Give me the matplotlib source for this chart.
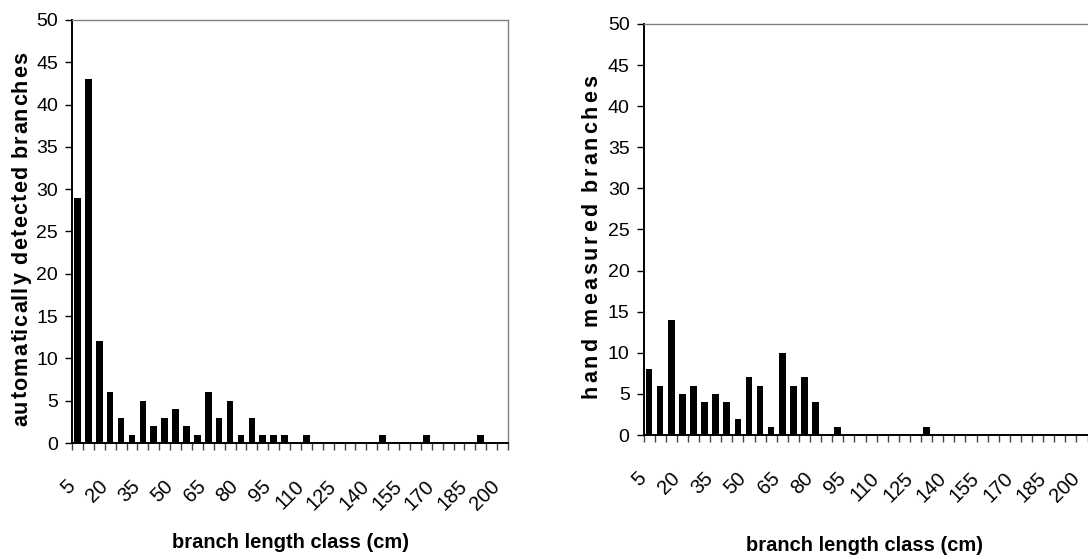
import numpy as np
import matplotlib
matplotlib.use("Agg")
import matplotlib.pyplot as plt
from matplotlib.font_manager import FontProperties, findfont, get_font

# branch length classes (cm), one bar per class
length_classes = list(range(5, 201, 5))
label_every = 3

auto_counts = [29, 43, 12, 6, 3, 1, 5, 2, 3, 4,
               2, 1, 6, 3, 5, 1, 3, 1, 1, 1,
               0, 1, 0, 0, 0, 0, 0, 0, 1, 0,
               0, 0, 1, 0, 0, 0, 0, 1, 0, 0]
hand_counts = [8, 6, 14, 5, 6, 4, 5, 4, 2, 7,
               6, 1, 10, 6, 7, 4, 0, 1, 0, 0,
               0, 0, 0, 0, 0, 1, 0, 0, 0, 0,
               0, 0, 0, 0, 0, 0, 0, 0, 0, 0]

auto_ylabel = "automatically detected branches"
hand_ylabel = "hand measured branches"
xlabel = "branch length class (cm)"

W, H = 1088, 559
FONT = ["Liberation Sans", "DejaVu Sans"]
plt.rcParams["font.family"] = FONT


def px_box(x0, y_top, x1, y_bot):
    # image pixel box -> figure fraction rect
    return [x0 / W, 1 - y_bot / H, (x1 - x0) / W, (y_bot - y_top) / H]


def spaced_vlabel(fig, text, x_base, y_bottom, y_top, prop):
    # vertical text with letter spacing, drawn char by char
    font = get_font(findfont(prop))
    font.set_size(prop.get_size_in_points(), fig.dpi)
    adv = [font.load_char(ord(c)).linearHoriAdvance / 65536 for c in text]
    extra = ((y_bottom - y_top) - sum(adv)) / (len(text) - 1)
    pos = y_bottom
    for c, a in zip(text, adv):
        fig.text(x_base / W, 1 - pos / H, c, rotation=90, rotation_mode="anchor",
                 ha="left", va="baseline", fontproperties=prop)
        pos -= a + extra


def draw_panel(ax, counts):
    idx = np.arange(len(length_classes))
    ax.bar(idx, counts, width=0.6, color="black", linewidth=0)
    ax.set_xlim(-0.5, len(length_classes) - 0.5)
    ax.set_ylim(0, 50)
    ax.set_yticks(np.arange(0, 51, 5))
    # tick marks between the classes, rotated labels on every third class
    ax.xaxis.remove_overlapping_locs = False
    ax.set_xticks(np.arange(len(length_classes) + 1) - 0.5)
    ax.set_xticklabels([])
    ax.set_xticks(idx[::label_every] - 0.5, minor=True)
    ax.set_xticklabels([str(v) for v in length_classes[::label_every]], minor=True)
    ax.tick_params(axis="y", direction="out", length=5, width=1, pad=5, labelsize=14)
    ax.tick_params(axis="x", which="major", direction="out", length=5, width=1, color="#444444")
    ax.tick_params(axis="x", which="minor", length=0, pad=29, labelsize=14.5)
    for lab in ax.get_xticklabels(minor=True):
        lab.set_rotation(45)
        lab.set_ha("right")
        lab.set_va("center")
        lab.set_rotation_mode("anchor")
    ax.spines["left"].set_linewidth(1.4)
    ax.spines["bottom"].set_linewidth(1.4)
    for s in ("top", "right"):
        ax.spines[s].set_color("#808080")
        ax.spines[s].set_linewidth(1.0)


fig = plt.figure(figsize=(W / 100, H / 100), dpi=100)

ax1 = fig.add_axes(px_box(72, 20, 508, 443))
draw_panel(ax1, auto_counts)

ax2 = fig.add_axes(px_box(643.5, 24, 1087.5, 435))
draw_panel(ax2, hand_counts)
ax2.spines["right"].set_visible(False)

bold = FontProperties(family=FONT, weight="bold", size=14.5)
fig.text(290 / W, 1 - 548 / H, xlabel, ha="center", va="baseline", fontproperties=bold)
fig.text(865 / W, 1 - 551 / H, xlabel, ha="center", va="baseline", fontproperties=bold)

ybold = FontProperties(family=FONT, weight="bold", size=15.5)
spaced_vlabel(fig, auto_ylabel, 27, 426, 52, ybold)
spaced_vlabel(fig, hand_ylabel, 597, 398, 75, ybold)

fig.savefig("out.png", dpi=100)
